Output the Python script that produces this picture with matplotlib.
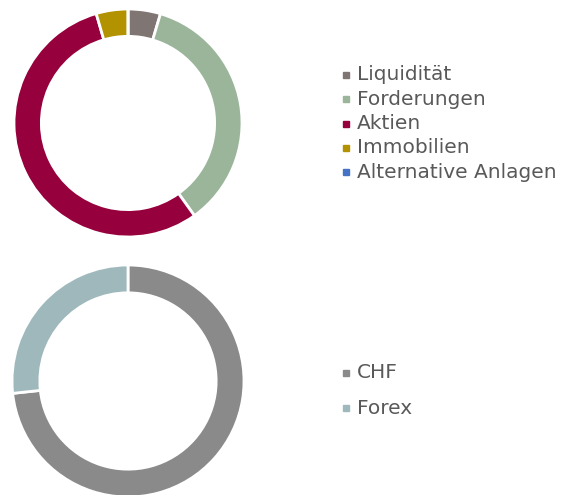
import matplotlib
matplotlib.use("Agg")
import matplotlib.pyplot as plt
from matplotlib.patches import Rectangle

# Anlagekategorien
labels_top = ["Liquidität", "Forderungen", "Aktien", "Immobilien", "Alternative Anlagen"]
values_top = [4.6, 35.5, 55.4, 4.5, 0.0]
colors_top = ["#7f7673", "#9bb59b", "#96003c", "#b39200", "#4472c4"]

# Währungen
labels_bot = ["CHF", "Forex"]
values_bot = [73.3, 26.7]
colors_bot = ["#8a8a8a", "#9fb8bc"]

W, H = 566, 495
fig = plt.figure(figsize=(W / 100, H / 100), dpi=100)


def donut(rect, values, colors, width):
    ax = fig.add_axes(rect)
    ax.pie(values, colors=colors, startangle=90, counterclock=False,
           radius=1, wedgeprops=dict(width=width, edgecolor="white", linewidth=2))
    ax.set_xlim(-1, 1)
    ax.set_ylim(-1, 1)
    ax.set_aspect("equal")
    ax.axis("off")
    return ax


def legend(labels, colors, y0, step):
    for i, (lab, col) in enumerate(zip(labels, colors)):
        y = y0 + i * step
        fig.patches.append(Rectangle((343 / W, 1 - (y + 3) / H), 6 / W, 6 / H,
                                     transform=fig.transFigure, color=col))
        fig.text(357 / W, 1 - y / H, lab, fontsize=14.5, color="#595959",
                 va="center", ha="left", family="DejaVu Sans")


donut([14 / W, 1 - 237 / H, 228 / W, 228 / H], values_top, colors_top, 0.24)
donut([12 / W, 1 - 497 / H, 232 / W, 232 / H], values_bot, colors_bot, 0.24)

legend(labels_top, colors_top, 75, 24.3)
legend(labels_bot, colors_bot, 373, 35)

fig.savefig("out.png", dpi=100)
